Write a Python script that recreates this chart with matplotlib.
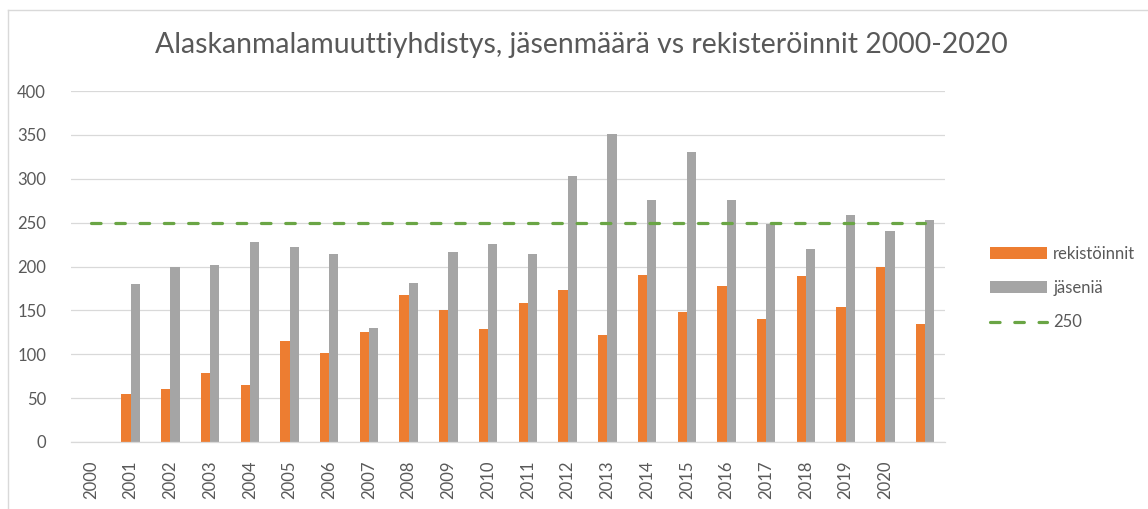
import numpy as np
import matplotlib
matplotlib.use('Agg')
import matplotlib.pyplot as plt
from matplotlib.lines import Line2D

years = ['2000', '2001', '2002', '2003', '2004', '2005', '2006', '2007',
         '2008', '2009', '2010', '2011', '2012', '2013', '2014', '2015',
         '2016', '2017', '2018', '2019', '2020', '']
rekistoinnit = [np.nan, 55, 60, 79, 65, 115, 101, 125, 167, 150, 129, 158,
                173, 122, 190, 148, 178, 140, 189, 154, 199, 134]
jasenia = [np.nan, 180, 199, 202, 228, 222, 214, 130, 181, 217, 226, 214,
           303, 351, 276, 330, 276, 249, 220, 259, 241, 253]
raja = [250] * len(years)

plt.rcParams['font.family'] = ['Lato', 'DejaVu Sans']
txt = '#595959'

fig = plt.figure(figsize=(11.48, 5.09), dpi=100)
ax = fig.add_axes([71/1148, 1 - 442/509, (945 - 71)/1148, (442 - 91)/509])

x = np.arange(len(years))
w = 0.232
b1 = ax.bar(x - w/2, rekistoinnit, w, color='#ED7D31', label='rekistöinnit', zorder=2)
b2 = ax.bar(x + w/2, jasenia, w, color='#A5A5A5', label='jäseniä', zorder=2)
l1, = ax.plot(x, raja, color='#6AA545', lw=2.3, dashes=(3, 4.6), dash_capstyle='round',
              label='250', zorder=3)

ax.set_xlim(-0.5, len(years) - 0.5)
ax.set_ylim(0, 400)
ax.set_yticks(range(0, 401, 50))
ax.set_xticks(x)
ax.set_xticklabels(years, rotation=90)
ax.grid(axis='y', color='#D9D9D9', lw=0.9, zorder=0)
ax.set_axisbelow(True)
for s in ['top', 'right', 'left']:
    ax.spines[s].set_visible(False)
ax.spines['bottom'].set_color('#D9D9D9')
ax.spines['bottom'].set_linewidth(0.9)
ax.tick_params(axis='both', length=0, labelsize=12, colors=txt)
ax.tick_params(axis='y', pad=18)
ax.tick_params(axis='x', pad=13)

fig.text(0.506, 1 - 45/509, 'Alaskanmalamuuttiyhdistys, jäsenmäärä vs rekisteröinnit 2000-2020',
         ha='center', va='center', fontsize=20.4, color=txt)

leg = fig.legend([b1, b2, l1], ['rekistöinnit', 'jäseniä', '250'], loc='center left',
                 bbox_to_anchor=(975/1148, 1 - 288/509),
                 frameon=False, fontsize=12, handlelength=3.4, handletextpad=0.4,
                 labelspacing=1.1)
for t in leg.get_texts():
    t.set_color(txt)

# chart area border
fig.add_artist(Line2D([8/1148, 1], [1 - 10/509, 1 - 10/509], color='#D9D9D9', lw=1))
fig.add_artist(Line2D([8/1148, 8/1148], [0, 1 - 10/509], color='#D9D9D9', lw=1))

fig.savefig('out.png', dpi=100)
